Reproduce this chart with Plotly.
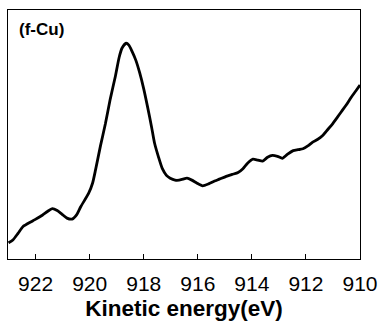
import plotly.graph_objects as go

energy = [923.0, 922.84, 922.65, 922.47, 922.11, 921.75, 921.56, 921.38, 921.2, 921.02,
          920.84, 920.65, 920.47, 920.33, 920.04, 919.89, 919.78, 919.6, 919.42, 919.24,
          919.05, 918.91, 918.8, 918.65, 918.55, 918.44, 918.29, 918.15, 918.0, 917.85,
          917.71, 917.6, 917.45, 917.31, 917.16, 917.02, 916.84, 916.69, 916.55, 916.4,
          916.22, 916.04, 915.82, 915.6, 915.38, 915.2, 914.95, 914.73, 914.51, 914.33,
          914.15, 913.96, 913.78, 913.6, 913.42, 913.24, 913.05, 912.87, 912.69, 912.47,
          912.29, 912.11, 911.93, 911.75, 911.56, 911.38, 911.2, 911.02, 910.84, 910.69,
          910.51, 910.33, 910.15, 910.0]
intensity = [17, 20, 27, 34, 40, 46, 50, 53, 51, 47,
             43, 42, 47, 55, 69, 80, 94, 119, 142, 168,
             192, 212, 222, 227, 225, 219, 209, 196, 179, 159,
             139, 122, 107, 95, 88, 85, 83, 83, 84, 85,
             83, 80, 77, 79, 82, 84, 87, 89, 91, 95,
             101, 105, 104, 103, 107, 109, 108, 106, 110, 114,
             115, 116, 119, 123, 126, 130, 136, 142, 149, 155,
             162, 170, 177, 183]
tick_vals = [922, 920, 918, 916, 914, 912, 910]
tick_text = ["922", "920", "918", "916", "914", "912", "910"]

fig = go.Figure()
fig.add_trace(go.Scatter(x=energy, y=intensity, mode="lines",
                         line=dict(color="black", width=2.8, shape="spline", smoothing=0.6),
                         showlegend=False, hoverinfo="skip"))

fig.update_layout(
    width=386, height=324,
    margin=dict(l=8, r=20, t=10, b=51),
    paper_bgcolor="white", plot_bgcolor="white",
    font=dict(family="Liberation Sans, Arial, sans-serif", color="black"),
    annotations=[dict(text="<b>(f-Cu)</b>", x=0.025, y=0.92, xref="paper", yref="paper",
                      xanchor="left", yanchor="middle", showarrow=False,
                      font=dict(size=17, color="black"))],
)
fig.update_xaxes(range=[923.02, 910], tickvals=tick_vals, ticktext=tick_text,
                 ticks="inside", ticklen=5, tickwidth=1, tickcolor="black",
                 showline=True, linecolor="black", linewidth=1.2, mirror=True,
                 showgrid=False, zeroline=False,
                 tickfont=dict(size=21), ticklabelstandoff=6,
                 title=dict(text="<b>Kinetic energy(eV)</b>", font=dict(size=22.5), standoff=5))
fig.update_yaxes(range=[0, 262], showticklabels=False, ticks="",
                 showline=True, linecolor="black", linewidth=1.2, mirror=True,
                 showgrid=False, zeroline=False)

fig.write_html("out.html")
